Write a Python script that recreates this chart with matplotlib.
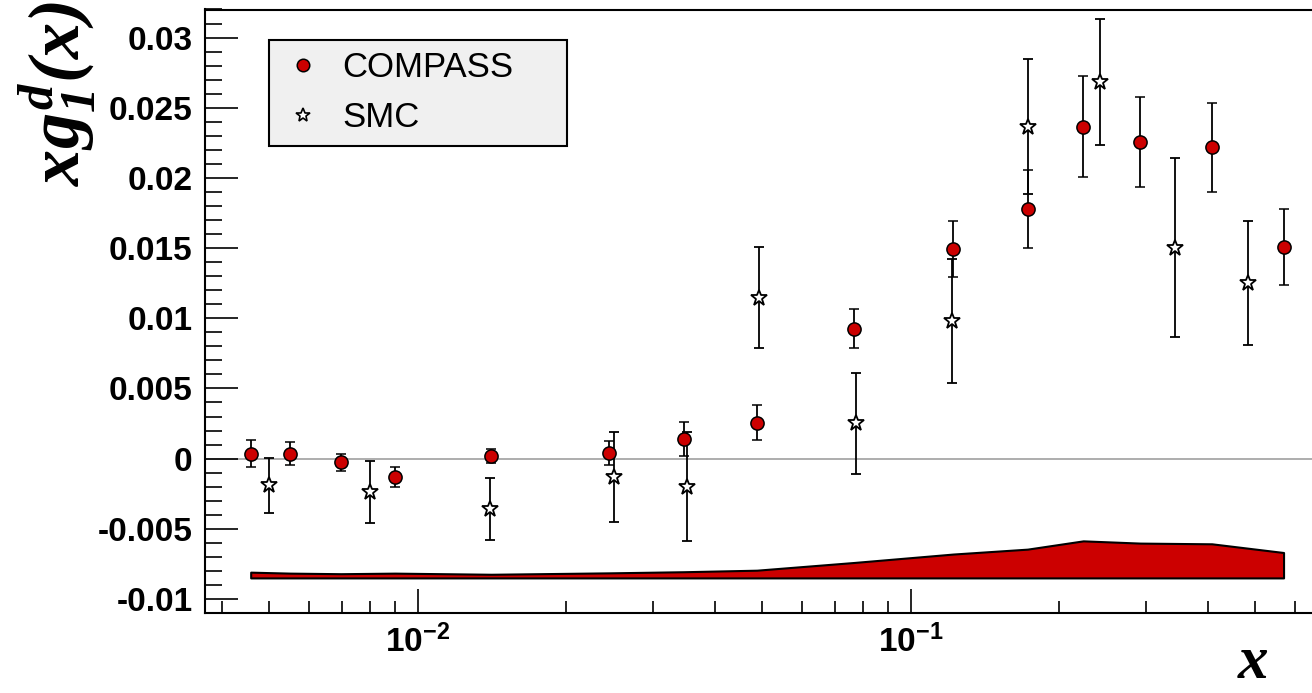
import math
import matplotlib
matplotlib.use("Agg")
import matplotlib.pyplot as plt
from matplotlib.ticker import LogLocator, MultipleLocator, FuncFormatter, NullFormatter
from matplotlib.lines import Line2D

# ---- data ----
compass_x = [0.00458, 0.00551, 0.00698, 0.00898, 0.0141, 0.0244, 0.0346, 0.0487,
             0.0767, 0.1218, 0.1724, 0.2236, 0.2918, 0.4077, 0.570]
compass_y = [0.00034, 0.00034, -0.00026, -0.00129, 0.00019, 0.00039, 0.00141, 0.00257,
             0.00926, 0.01493, 0.01779, 0.02364, 0.02255, 0.02217, 0.01505]
compass_err = [0.00096, 0.00082, 0.00062, 0.0007, 0.0005, 0.00086, 0.0012, 0.00125,
               0.0014, 0.002, 0.0028, 0.0036, 0.0032, 0.0032, 0.0027]

smc_x = [0.00499, 0.0080, 0.0140, 0.0250, 0.0351, 0.0492, 0.0773, 0.1213, 0.1728,
         0.2421, 0.3437, 0.482]
smc_y = [-0.0019, -0.00236, -0.00357, -0.00133, -0.0020, 0.01146, 0.00253, 0.00979,
         0.02364, 0.02681, 0.01503, 0.01253]
smc_err = [0.00194, 0.0022, 0.0022, 0.0032, 0.0039, 0.0036, 0.0036, 0.0044, 0.0048,
           0.0045, 0.0064, 0.0044]

syst_top = [-0.00809, -0.00816, -0.0082, -0.00816, -0.00824, -0.00814, -0.00806, -0.00795,
            -0.0074, -0.0068, -0.00645, -0.00586, -0.00602, -0.00607, -0.00669]
syst_base = -0.0085

series_labels = ["COMPASS", "SMC"]

# ---- style ----
plt.rcParams['font.family'] = ['Liberation Sans', 'DejaVu Sans']
plt.rcParams['mathtext.fontset'] = 'custom'
plt.rcParams['mathtext.rm'] = 'Liberation Serif:bold:italic'
plt.rcParams['mathtext.it'] = 'Liberation Serif:bold:italic'
plt.rcParams['mathtext.bf'] = 'Liberation Sans:bold'

RED = '#cc0000'

fig = plt.figure(figsize=(13.12, 6.93), dpi=100)
ax = fig.add_axes([205/1312, 80/693, (1312-205)/1312, (613-9.5)/693])

ax.set_xscale('log')
ax.set_xlim(0.0037, 0.651)
ax.set_ylim(-0.011, 0.032)

# zero line
ax.axhline(0, color='#a0a0a0', lw=1.2, zorder=1)

# systematic band
ax.fill_between(compass_x, syst_base, syst_top, facecolor=RED, edgecolor='black',
                linewidth=1.5, zorder=2)

# SMC
ax.errorbar(smc_x, smc_y, yerr=smc_err, fmt='*', ms=12, mfc='white', mec='black',
            mew=1.3, ecolor='black', elinewidth=1.3, capsize=3.6, capthick=1.3, zorder=3)
# COMPASS
ax.errorbar(compass_x, compass_y, yerr=compass_err, fmt='o', ms=9.5, mfc=RED, mec='black',
            mew=1.1, ecolor='black', elinewidth=1.3, capsize=3.6, capthick=1.3, zorder=4)

# ticks
ax.xaxis.set_major_locator(LogLocator(base=10))
ax.xaxis.set_minor_locator(LogLocator(base=10, subs=[2, 3, 4, 5, 6, 7, 8, 9]))
ax.xaxis.set_minor_formatter(NullFormatter())
ax.xaxis.set_major_formatter(FuncFormatter(
    lambda v, p: r'$\mathbf{10^{%d}}$' % round(math.log10(v))))

ax.yaxis.set_major_locator(MultipleLocator(0.005))
ax.yaxis.set_minor_locator(MultipleLocator(0.001))
ax.yaxis.set_major_formatter(FuncFormatter(
    lambda v, p: ('%g' % round(v, 4)) if abs(v) > 1e-9 else '0'))

ax.tick_params(axis='both', which='both', direction='in', width=1.2, colors='black')
ax.tick_params(axis='y', which='major', length=24, pad=9, labelsize=24)
ax.tick_params(axis='y', which='minor', length=12)
ax.tick_params(axis='x', which='major', length=17, pad=8, labelsize=24)
ax.tick_params(axis='x', which='minor', length=9)
for lab in ax.get_yticklabels():
    lab.set_fontweight('bold')

for s in ['left', 'bottom', 'top']:
    ax.spines[s].set_linewidth(1.5)
ax.spines['right'].set_visible(False)

# axis titles
fig.text(57.5/1312, 1 - 1/693, r'$xg_{1}^{d}(x)$', rotation=90,
         ha='center', va='top', fontsize=52)
fig.text(1253/1312, 1 - 691/693, r'$x$', ha='center', va='bottom', fontsize=44)

# legend
handles = [Line2D([], [], ls='', marker='o', ms=9, mfc=RED, mec='black', mew=1.1),
           Line2D([], [], ls='', marker='*', ms=10, mfc='white', mec='black', mew=1.2)]
leg = ax.legend(handles, series_labels, loc='upper left',
                bbox_to_anchor=(269/1312, 1 - 40/693 - 0.01, (567-269)/1312, 0.01),
                bbox_transform=fig.transFigure, mode='expand', borderaxespad=0,
                fontsize=25, frameon=True, fancybox=False, framealpha=1,
                facecolor='#f0f0f0', edgecolor='black', borderpad=0.32,
                handlelength=1.3, handletextpad=0.5, labelspacing=0.5, numpoints=1)
leg.get_frame().set_linewidth(1.5)

fig.savefig('out.png', dpi=100)
